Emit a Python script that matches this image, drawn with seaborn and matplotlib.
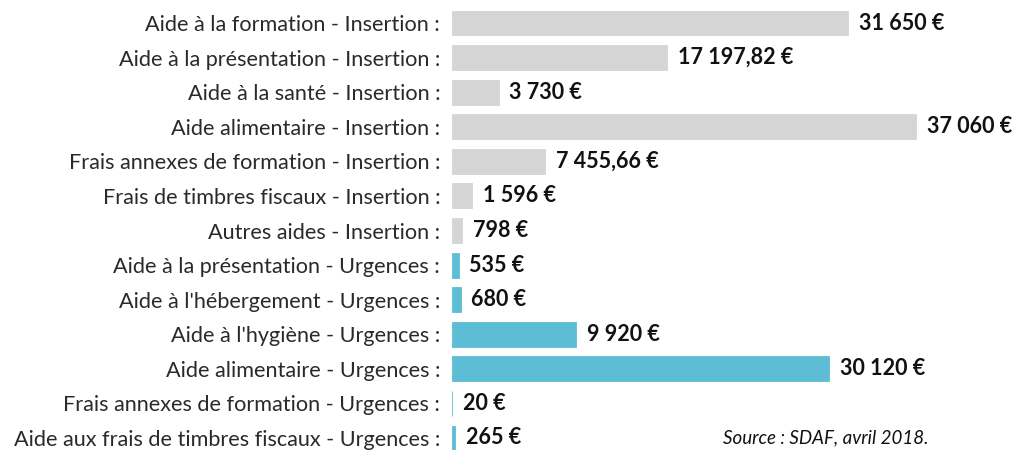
import matplotlib
matplotlib.use("Agg")
import matplotlib.pyplot as plt
import seaborn as sns
import pandas as pd

# data
categories = [
    "Aide à la formation - Insertion :",
    "Aide à la présentation - Insertion :",
    "Aide à la santé - Insertion :",
    "Aide alimentaire - Insertion :",
    "Frais annexes de formation - Insertion :",
    "Frais de timbres fiscaux - Insertion :",
    "Autres aides - Insertion :",
    "Aide à la présentation - Urgences :",
    "Aide à l'hébergement - Urgences :",
    "Aide à l'hygiène - Urgences :",
    "Aide alimentaire - Urgences :",
    "Frais annexes de formation - Urgences :",
    "Aide aux frais de timbres fiscaux - Urgences :",
]
amounts = [31650, 17197.82, 3730, 37060, 7455.66, 1596, 798,
           535, 680, 9920, 30120, 20, 265]
groups = ["Insertion"] * 7 + ["Urgences"] * 6

df = pd.DataFrame({"cat": categories, "amount": amounts, "group": groups})


def fmt(v):
    if v == int(v):
        s = f"{int(v):,}".replace(",", " ")
    else:
        s = f"{v:,.2f}".replace(",", " ").replace(".", ",")
    return s + " €"


sns.set_style("white")
plt.rcParams["font.family"] = ["Lato", "DejaVu Sans"]

fig = plt.figure(figsize=(10.23, 4.5), dpi=100)
ax = fig.add_axes([452 / 1023, 0, 1 - 452 / 1023, 1])

sns.barplot(data=df, x="amount", y="cat", hue="group", order=categories,
            palette={"Insertion": "#d5d5d5", "Urgences": "#5dbdd4"},
            width=0.72, dodge=False, legend=False, ax=ax, saturation=1)
for p in ax.patches:
    p.set_edgecolor(p.get_facecolor())
    p.set_linewidth(0.6)

ax.set_xlim(0, 37060 * 571 / 464)
ax.set_ylim(12 + 12 / 34.58, -23 / 34.58)
ax.set_xlabel("")
ax.set_ylabel("")
ax.set_xticks([])
sns.despine(ax=ax, left=True, bottom=True)
ax.tick_params(axis="y", length=0, pad=8.5)
for lab in ax.get_yticklabels():
    lab.set_fontsize(15.6)
    lab.set_fontweight("normal")
    lab.set_color("#2a2a2a")

for i, v in enumerate(amounts):
    ax.text(v + 850, i, fmt(v), va="center", ha="left",
            fontsize=15.5, fontweight="bold", color="#111111")

fig.text(723 / 1023, 1 - 438 / 450, "Source : SDAF, avril 2018.", fontsize=13.5,
         style="italic", va="center", ha="left", color="#111111")

fig.savefig("out.png", dpi=100)
